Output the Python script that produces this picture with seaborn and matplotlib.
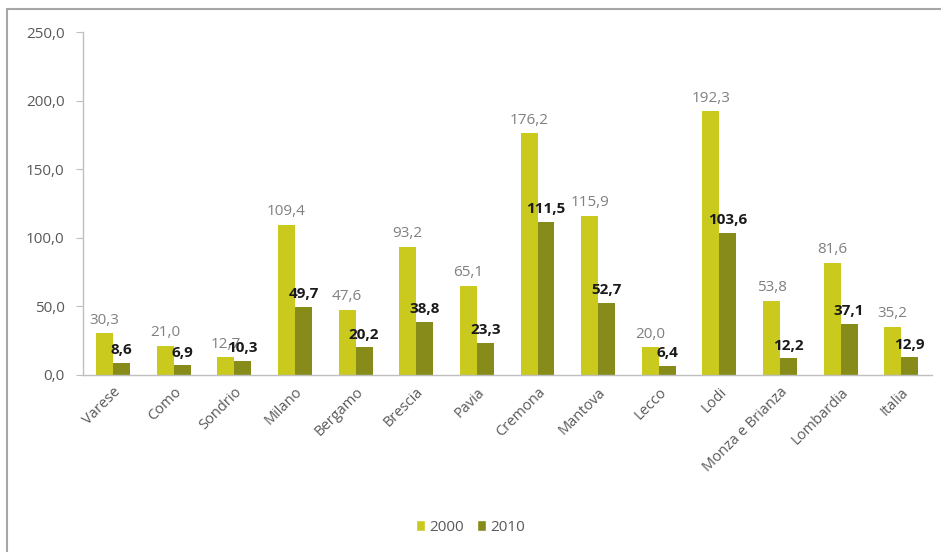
import matplotlib
matplotlib.use("Agg")
import matplotlib.pyplot as plt
from matplotlib.patches import Rectangle, Patch
from matplotlib.ticker import FixedLocator
import seaborn as sns
import pandas as pd

province = ["Varese", "Como", "Sondrio", "Milano", "Bergamo", "Brescia", "Pavia",
            "Cremona", "Mantova", "Lecco", "Lodi", "Monza e Brianza", "Lombardia", "Italia"]
values_2000 = [30.3, 21.0, 12.7, 109.4, 47.6, 93.2, 65.1, 176.2, 115.9, 20.0, 192.3, 53.8, 81.6, 35.2]
values_2010 = [8.6, 6.9, 10.3, 49.7, 20.2, 38.8, 23.3, 111.5, 52.7, 6.4, 103.6, 12.2, 37.1, 12.9]
years = ["2000", "2010"]
y_ticks = [0, 50, 100, 150, 200, 250]

colors = {"2000": "#CACA1E", "2010": "#868B1A"}

df = pd.DataFrame({
    "provincia": province * 2,
    "valore": values_2000 + values_2010,
    "anno": [years[0]] * len(province) + [years[1]] * len(province),
})

sns.set_style("white")
plt.rcParams["font.family"] = ["Open Sans", "DejaVu Sans"]

fig = plt.figure(figsize=(9.41, 5.52), dpi=100)
ax = fig.add_axes([0.088, 0.321, 0.902, 0.621])

sns.barplot(data=df, x="provincia", y="valore", hue="anno", palette=colors,
            width=0.56, gap=0, saturation=1, linewidth=0, ax=ax, legend=False)

fmt = lambda v: f"{v:.1f}".replace(".", ",")
ax.bar_label(ax.containers[0], labels=[fmt(v) for v in values_2000],
             padding=4, fontsize=11, color="#808080")
ax.bar_label(ax.containers[1], labels=[fmt(v) for v in values_2010],
             padding=4, fontsize=11, color="#1A1A1A", fontweight="bold")

ax.set_ylim(0, 250)
ax.set_xlim(-0.5, len(province) - 0.5)
ax.set_yticks(y_ticks)
ax.set_yticklabels([fmt(t) for t in y_ticks], fontsize=11, color="#595959")
ax.set_xticks(range(len(province)))
ax.set_xticklabels(province, rotation=45, ha="right", rotation_mode="anchor",
                   fontsize=10.5, color="#595959")
ax.xaxis.set_minor_locator(FixedLocator([i - 0.5 for i in range(len(province) + 1)]))
ax.tick_params(axis="x", which="major", length=0, pad=7)
ax.tick_params(axis="x", which="minor", length=5, color="#BFBFBF", direction="out")
ax.tick_params(axis="y", length=5, color="#BFBFBF", direction="out", left=True, pad=8)
ax.set_xlabel("")
ax.set_ylabel("")

for side in ["top", "right"]:
    ax.spines[side].set_visible(False)
for side in ["left", "bottom"]:
    ax.spines[side].set_color("#BFBFBF")
    ax.spines[side].set_linewidth(1)

handles = [Patch(facecolor=colors[y], label=y) for y in years]
fig.legend(handles=handles, loc="center", bbox_to_anchor=(0.5, 0.045), ncol=2,
           frameon=False, fontsize=11, handlelength=0.6, handleheight=0.8,
           handletextpad=0.3, columnspacing=0.8, labelcolor="#595959")

fig.patches.append(Rectangle((7 / 941, -0.05), 1.0, 1 - 9 / 552 + 0.05,
                             transform=fig.transFigure, fill=False,
                             edgecolor="#A6A6A6", linewidth=1.5))

fig.savefig("out.png", dpi=100)
